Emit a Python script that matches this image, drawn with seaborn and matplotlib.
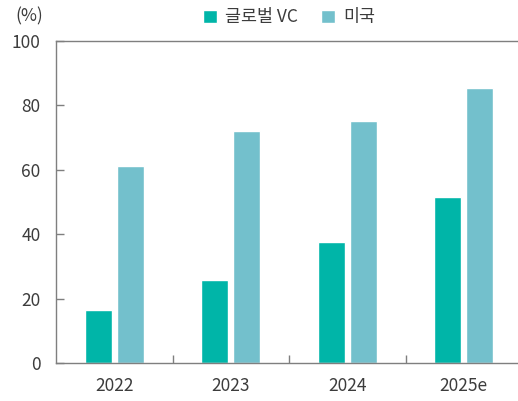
import pandas as pd
import numpy as np
import matplotlib.pyplot as plt
import seaborn as sns

years = ['2022', '2023', '2024', '2025e']
global_vc = [16.5, 25.8, 37.6, 51.5]
usa = [61.2, 72.0, 75.2, 85.4]
series_names = ['글로벌 VC', '미국']
colors = ['#00B5A8', '#73C0CC']

df = pd.DataFrame({
    'year': years * 2,
    'value': global_vc + usa,
    'series': [series_names[0]] * 4 + [series_names[1]] * 4,
})

sns.set_theme(style='white')
plt.rcParams['font.family'] = ['Noto Sans CJK KR', 'DejaVu Sans']
text_color = '#3c3c3c'
axis_color = '#7f7f7f'

fig = plt.figure(figsize=(5.18, 4.01), dpi=100)
ax = fig.add_axes([56 / 518, 38 / 401, 466 / 518, 322 / 401])

sns.barplot(data=df, x='year', y='value', hue='series', order=years,
            hue_order=series_names, palette=colors, width=0.55, gap=0.15,
            saturation=1, ax=ax, legend=True)

ax.set_xlim(-0.5, 3.5)
ax.set_ylim(0, 100)
ax.set_yticks(np.arange(0, 101, 20))
ax.set_xlabel('')
ax.set_ylabel('')

# 구분선 눈금 (카테고리 사이)
ax.set_xticks([0.5, 1.5, 2.5], minor=True)
ax.tick_params(axis='x', which='major', length=0, pad=10, labelsize=12.5,
               labelcolor=text_color)
ax.tick_params(axis='x', which='minor', direction='in', length=6,
               width=1, color=axis_color, bottom=True)
ax.tick_params(axis='y', direction='in', length=6, width=1, color=axis_color,
               left=True, pad=11, labelsize=12.5, labelcolor=text_color)

for side in ['left', 'bottom', 'top']:
    ax.spines[side].set_visible(True)
    ax.spines[side].set_color(axis_color)
    ax.spines[side].set_linewidth(1)
ax.spines['right'].set_visible(False)

leg = ax.legend(loc='upper center', bbox_to_anchor=(0.5, 1.15),
                ncol=2, frameon=False, fontsize=12.5, handlelength=0.8,
                handleheight=0.8, handletextpad=0.45, columnspacing=1.35)
for t in leg.get_texts():
    t.set_color(text_color)

fig.text(15 / 518, 1 - 16 / 401, '(%)', fontsize=12.5, color=text_color,
         va='center', ha='left')

fig.savefig('out.png', dpi=100)
